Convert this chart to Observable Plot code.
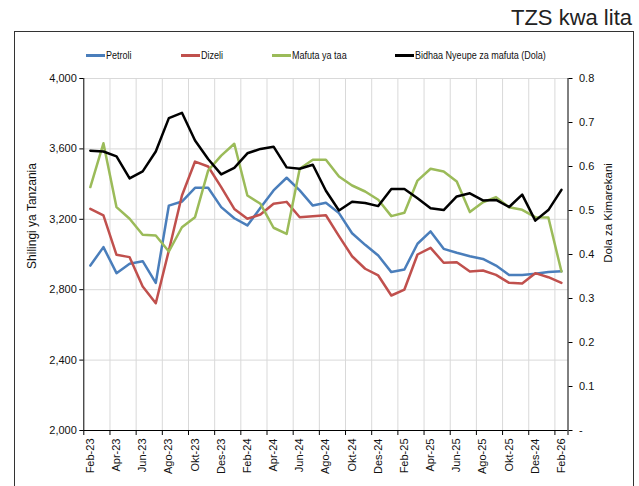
<!DOCTYPE html>
<html><head><meta charset="utf-8">
<script src="https://cdn.jsdelivr.net/npm/d3@7"></script>
<script src="https://cdn.jsdelivr.net/npm/@observablehq/plot@0.6"></script>
<style>
body{margin:0;width:639px;height:486px;overflow:hidden;background:#fff;font-family:"Liberation Sans",Arial,sans-serif;position:relative}
#chart{position:absolute;left:0;top:0}
.box{position:absolute;left:14px;top:31px;width:620px;height:520px;border:1.5px solid #333;box-sizing:border-box;pointer-events:none}
.title{position:absolute;right:7px;top:7px;font-size:22px;color:#222;line-height:1}
.legend{position:absolute;left:86px;top:48px;display:flex;gap:49px;font-family:"Liberation Sans",Arial,sans-serif;font-size:11px;color:#111;line-height:14px}
.legend .item{display:flex;align-items:center}
.legend .sw{width:19px;height:3px;margin-right:1px}
.legend .tx{display:inline-block;transform:scaleX(0.82);transform-origin:left center;white-space:nowrap}
.ytitle{position:absolute;font-size:12px;color:#111;white-space:nowrap;transform:translate(-50%,-50%) rotate(-90deg)}
</style></head>
<body>
<div id="chart"></div>
<div class="box"></div>
<div class="title">TZS kwa lita</div>
<div class="legend" id="legend"></div>
<div class="ytitle" style="left:32px;top:216px">Shilingi ya Tanzania</div>
<div class="ytitle" style="left:608px;top:213px;font-size:11.5px">Dola za Kimarekani</div>
<script>
const months = ["Feb-23","Mac-23","Apr-23","Mei-23","Jun-23","Jul-23","Ago-23","Sep-23","Okt-23","Nov-23","Des-23","Jan-24","Feb-24","Mac-24","Apr-24","Mei-24","Jun-24","Jul-24","Ago-24","Sep-24","Okt-24","Nov-24","Des-24","Jan-25","Feb-25","Mac-25","Apr-25","Mei-25","Jun-25","Jul-25","Ago-25","Sep-25","Okt-25","Nov-25","Des-24","Jan-26","Feb-26"];
const petroli = [2937,3042,2894,2947,2962,2839,3278,3301,3379,3379,3269,3206,3165,3265,3364,3436,3364,3278,3294,3235,3121,3055,2994,2900,2915,3061,3131,3032,3010,2990,2975,2937,2884,2884,2890,2901,2905];
const dizeli = [3259,3222,2998,2985,2818,2723,3023,3335,3528,3500,3383,3259,3203,3227,3288,3299,3212,3218,3223,3104,2990,2919,2881,2767,2801,3000,3038,2953,2956,2903,2909,2884,2839,2835,2894,2871,2839];
const mafuta = [3383,3632,3269,3203,3112,3108,3017,3155,3212,3477,3562,3629,3335,3288,3152,3117,3487,3538,3538,3443,3392,3358,3311,3218,3237,3420,3487,3472,3415,3241,3297,3326,3269,3254,3212,3210,2903];
const dola = [0.636,0.634,0.623,0.573,0.589,0.634,0.710,0.722,0.659,0.617,0.582,0.597,0.630,0.640,0.645,0.598,0.595,0.604,0.545,0.500,0.520,0.517,0.510,0.549,0.549,0.528,0.505,0.501,0.532,0.539,0.523,0.524,0.508,0.536,0.477,0.501,0.547];
const seriesNames = ["Petroli","Dizeli","Mafuta ya taa","Bidhaa Nyeupe za mafuta (Dola)"];
const colors = ["#4a7ebb","#c0504d","#9bbb59","#000000"];
const leftTicks = [2000,2400,2800,3200,3600,4000];
const rightTicks = [0,0.1,0.2,0.3,0.4,0.5,0.6,0.7,0.8];

const toLeft = d => 2000 + d * 2500;
const n = months.length;
const boundaries = d3.range(-0.5, n, 2).concat([n - 0.5]);
const evens = d3.range(0, n, 2);

const plot = Plot.plot({
  width: 639, height: 486,
  marginLeft: 83.3, marginRight: 71.5, marginTop: 78, marginBottom: 56,
  style: {fontFamily: "Liberation Sans, Arial, sans-serif", fontSize: "11px", color: "#111", background: "transparent"},
  x: {type: "linear", domain: [-0.5, n - 0.5], label: null},
  y: {domain: [2000, 4000], label: null},
  marks: [
    Plot.ruleY(leftTicks.slice(1), {stroke: "#d9d9d9", strokeWidth: 1}),
    Plot.ruleX(boundaries.slice(1, -1), {stroke: "#d9d9d9", strokeWidth: 1}),
    Plot.lineY(petroli, {stroke: colors[0], strokeWidth: 2.5}),
    Plot.lineY(dizeli, {stroke: colors[1], strokeWidth: 2.5}),
    Plot.lineY(mafuta, {stroke: colors[2], strokeWidth: 2.5}),
    Plot.lineY(dola, {y: d => toLeft(d), stroke: colors[3], strokeWidth: 2.5}),
    Plot.ruleX([-0.5], {stroke: "#000", strokeWidth: 1}),
    Plot.ruleX([n - 0.5], {stroke: "#000", strokeWidth: 1}),
    Plot.ruleY([2000], {stroke: "#000", strokeWidth: 1}),
    Plot.axisY({ticks: leftTicks, anchor: "left", tickFormat: d3.format(","), tickSize: 4, tickPadding: 3, label: null, stroke: "#000"}),
    Plot.axisY({ticks: rightTicks.map(toLeft), anchor: "right", tickFormat: v => { const d = Math.round((v - 2000) / 250) / 10; return d === 0 ? "-" : d.toFixed(1); }, tickSize: 4, tickPadding: 7, label: null, stroke: "#000", textAnchor: "start"}),
    Plot.axisX({ticks: boundaries, tickFormat: () => "", tickSize: 5, label: null, stroke: "#000"}),
    Plot.axisX({ticks: evens, tickFormat: i => months[i], tickSize: 0, tickPadding: 8, tickRotate: -90, label: null})
  ]
});
document.getElementById("chart").appendChild(plot);

const legend = document.getElementById("legend");
seriesNames.forEach((name, i) => {
  const item = document.createElement("div");
  item.className = "item";
  item.innerHTML = `<span class="sw" style="background:${colors[i]}"></span><span class="tx">${name}</span>`;
  legend.appendChild(item);
  const tx = item.querySelector(".tx");
  tx.style.marginRight = (-0.18 * tx.getBoundingClientRect().width / 0.82) + "px";
});
</script>
</body></html>
